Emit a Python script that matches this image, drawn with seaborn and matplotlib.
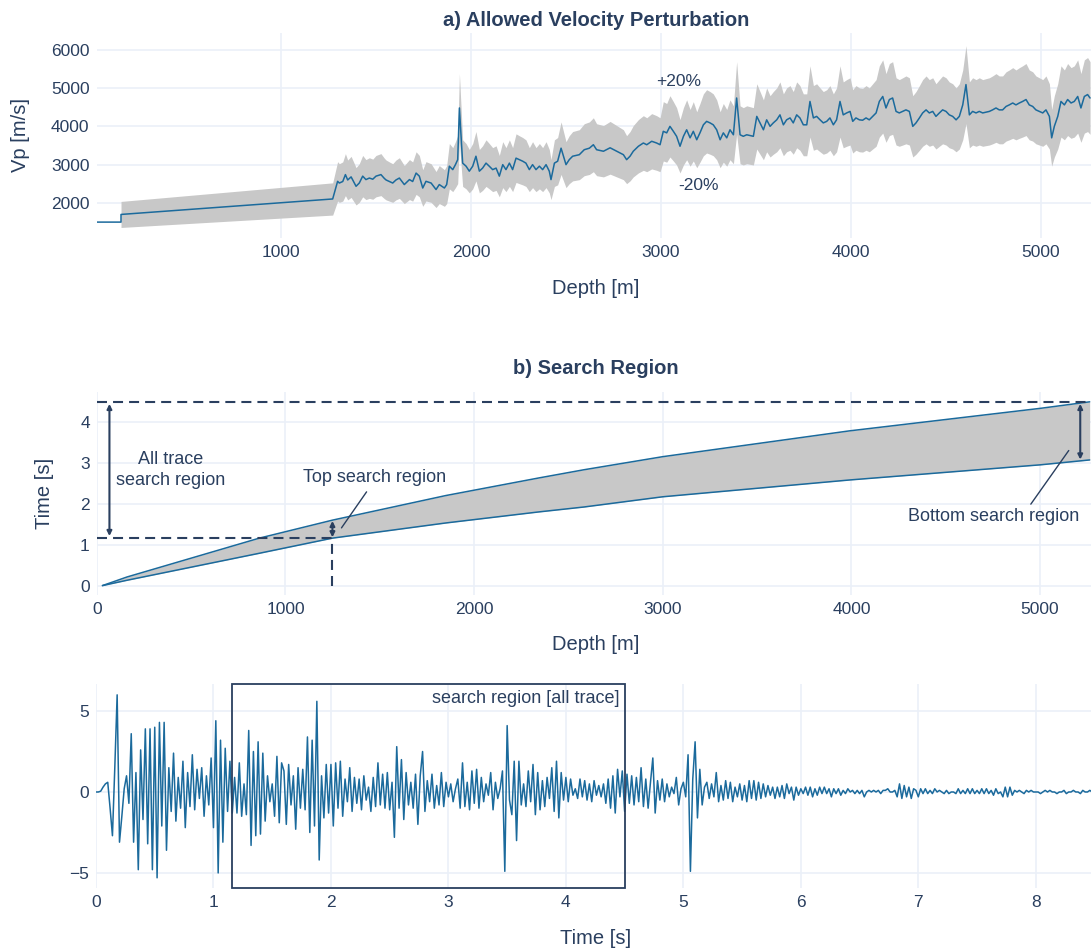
import numpy as np
import pandas as pd
import seaborn as sns
import matplotlib.pyplot as plt

# ---------------- data: a) velocity log ----------------
depth_top = [29, 158, 158, 1272]
vp_top = [1500, 1500, 1700, 2104]

depth_log = [1298, 1307, 1325, 1339, 1351, 1369, 1395, 1412, 1430, 1447, 1465, 1483, 1500, 1526,
             1544, 1553, 1570, 1588, 1605, 1623, 1649, 1676, 1693, 1711, 1728, 1746, 1763, 1790,
             1816, 1833, 1860, 1872, 1886, 1904, 1918, 1930, 1939, 1956, 1974, 1991, 2009, 2026,
             2044, 2061, 2079, 2096, 2114, 2132, 2149, 2167, 2184, 2202, 2219, 2237, 2254, 2272,
             2289, 2307, 2324, 2342, 2360, 2377, 2395, 2412, 2421, 2439, 2456, 2474, 2500, 2517,
             2535, 2570, 2596, 2623, 2644, 2661, 2697, 2732, 2767, 2802, 2819, 2837, 2854, 2881,
             2907, 2925, 2951, 2977, 2995, 3012, 3030, 3047, 3065, 3082, 3100, 3118, 3135, 3153,
             3170, 3188, 3205, 3223, 3240, 3258, 3275, 3293, 3311, 3328, 3346, 3363, 3381, 3398,
             3416, 3433, 3451, 3486, 3504, 3521, 3539, 3556, 3574, 3591, 3609, 3626, 3644, 3661,
             3679, 3696, 3714, 3731, 3749, 3767, 3784, 3802, 3819, 3837, 3854, 3872, 3889, 3907,
             3924, 3942, 3959, 3977, 3995, 4009, 4026, 4044, 4061, 4079, 4096, 4114, 4132, 4149,
             4167, 4184, 4202, 4219, 4237, 4254, 4272, 4289, 4307, 4325, 4342, 4360, 4377, 4395,
             4412, 4430, 4447, 4465, 4482, 4500, 4517, 4535, 4553, 4570, 4588, 4605, 4623, 4640,
             4658, 4675, 4693, 4710, 4728, 4745, 4763, 4780, 4798, 4816, 4833, 4851, 4868, 4886,
             4903, 4921, 4938, 4956, 4973, 4991, 5009, 5026, 5044, 5056, 5070, 5088, 5105, 5123,
             5140, 5158, 5175, 5193, 5210, 5228, 5245, 5258]
vp_log = [2565, 2520, 2560, 2740, 2600, 2680, 2435, 2520, 2700, 2610, 2650, 2620, 2700, 2740,
          2640, 2600, 2560, 2520, 2600, 2650, 2480, 2610, 2560, 2780, 2700, 2390, 2565, 2520,
          2350, 2480, 2390, 2480, 2960, 2870, 3000, 3130, 4480, 3040, 2960, 2830, 2960, 3220,
          2830, 2910, 3040, 2960, 2870, 2910, 2700, 3000, 2870, 3040, 2870, 3170, 3130, 3090,
          3040, 2870, 3000, 2870, 2960, 2870, 3000, 2830, 2610, 3040, 3090, 3430, 3000, 3130,
          3220, 3260, 3390, 3430, 3520, 3390, 3350, 3440, 3350, 3260, 3130, 3220, 3350, 3480,
          3565, 3520, 3610, 3565, 3520, 3870, 3830, 4000, 3870, 3740, 3480, 3740, 3910, 3700,
          3870, 3650, 3830, 4040, 4130, 4090, 4040, 3910, 3650, 3830, 3700, 3910, 3780, 4740,
          3780, 3740, 3780, 3740, 4260, 4090, 3910, 4170, 4000, 4090, 4170, 4300, 4040, 4170,
          4220, 4090, 4300, 4220, 4040, 4040, 4650, 4220, 4260, 4170, 4090, 4130, 4220, 4040,
          4170, 4650, 4300, 4350, 4390, 4130, 4220, 4170, 4160, 4220, 4170, 4260, 4350, 4650,
          4780, 4480, 4700, 4740, 4390, 4350, 4390, 4430, 4390, 4000, 4090, 4220, 4350, 4430,
          4350, 4390, 4260, 4350, 4430, 4390, 4300, 4260, 4170, 4260, 4560, 5090, 4300, 4390,
          4350, 4390, 4350, 4370, 4390, 4430, 4480, 4430, 4430, 4520, 4560, 4610, 4560, 4610,
          4650, 4700, 4560, 4520, 4430, 4390, 4350, 4430, 4260, 3700, 4000, 4260, 4650, 4560,
          4700, 4610, 4650, 4780, 4480, 4780, 4830, 4740]
perturb = 0.20

# ---------------- data: b) search region ----------------
depth_b = [30, 160, 862, 1250, 1850, 2343, 2582, 3000, 3989, 5000, 5263]
t_upper = [0, 0.21, 1.16, 1.60, 2.20, 2.63, 2.83, 3.15, 3.78, 4.33, 4.49]
t_lower = [0, 0.13, 0.79, 1.16, 1.53, 1.80, 1.92, 2.17, 2.58, 2.95, 3.07]
t_top, t_bottom = 1.16, 4.49
depth_top_region = 1249

# ---------------- data: c) seismic trace (dt = 0.02 s) ----------------
trace = [
    0.0, 0.0, 0.05, 0.3, 0.5, 0.6, -1.0, -2.7, 1.5, 6.0,
    -3.1, -1.5, 0.2, 1.0, -0.7, 3.6, -3.1, 1.2, -4.8, 2.6,
    -1.7, 3.9, -3.2, 3.9, -4.8, 4.0, -5.3, 4.3, -2.1, 4.3,
    -3.6, 1.5, -1.2, 2.4, -1.8, 0.9, -1.0, 1.9, -2.2, 1.2,
    -0.9, 2.3, -1.1, 1.4, -0.4, 1.5, -1.5, 1.0, -0.8, 2.1,
    -2.2, 4.4, -5.0, 3.2, -3.1, 2.7, -1.2, 1.9, -1.3, 0.9,
    -1.3, 1.8, -1.5, 0.5, -1.4, 3.8, -3.3, 2.5, -2.7, 3.1,
    -2.6, 2.4, -1.8, 1.0, -0.6, 0.5, -1.5, 2.2, -1.9, 1.8,
    1.3, -2.0, 1.7, -0.8, 1.0, -2.3, 1.5, -1.0, 1.4, -1.1,
    3.4, -2.5, 3.2, -2.1, 5.6, -4.2, 1.0, -1.6, 1.7, -1.3,
    1.7, -2.1, 1.8, -1.0, 1.9, -1.5, 0.8, -0.6, 1.5, -1.2,
    0.9, -0.7, 0.8, -1.1, 1.0, -0.5, 0.3, -1.2, 0.9, -0.9,
    1.8, -0.8, 1.1, -1.0, 1.2, -1.1, 0.6, -2.8, 2.8, -1.0,
    2.0, -1.7, 1.2, -0.8, 0.6, -1.0, 1.1, -2.0, 1.0, 2.5,
    -1.2, 0.7, -0.6, 1.1, -1.0, 0.4, -0.8, 1.2, -0.9, 0.6,
    -0.3, 0.5, -0.6, 0.2, 0.8, -1.0, 1.8, -0.9, 0.6, -1.1,
    1.3, -0.7, 1.4, -1.0, 0.9, -0.6, 0.5, -0.2, 1.2, -1.1,
    0.6, -0.4, 0.2, 1.3, -4.9, 4.1, -0.5, -1.4, 1.9, -3.0,
    1.9, -0.8, 0.5, -0.9, 1.3, -0.6, 1.7, -1.4, 1.2, -1.1,
    0.7, -0.9, 0.9, -0.4, 1.5, -1.2, 1.9, -1.6, 1.2, -0.5,
    0.9, -0.6, 0.8, -0.2, 0.2, -0.4, 0.8, -0.3, 0.7, -0.5,
    0.5, -0.6, 0.7, -0.2, 0.4, -0.3, 0.5, -0.7, 0.8, -1.0,
    1.0, -1.3, 1.4, -0.3, 1.3, -1.2, 1.1, -0.7, 1.0, -0.8,
    0.9, -0.6, 1.5, -0.9, 0.8, -1.0, 0.6, 2.1, -1.3, 0.7,
    -0.5, 0.8, -0.6, 0.5, -0.3, 0.3, -0.1, 0.9, -0.8, 0.2,
    0.6, -0.3, 2.3, -4.9, 0.8, 3.1, -1.6, 1.4, -0.8, 0.3,
    0.6, -0.4, 0.5, -0.3, 1.2, -0.6, 0.4, -0.5, 0.7, -0.4,
    0.6, -0.6, 0.3, -0.3, 0.5, -0.5, 0.4, -0.6, 0.7, -0.4,
    0.7, -0.5, 0.6, -0.4, 0.5, -0.3, 0.4, -0.2, 0.3, -0.4,
    0.3, -0.3, 0.4, -0.4, 0.5, -0.1, 0.3, -0.5, 0.3, -0.2,
    0.2, -0.1, 0.3, -0.2, 0.3, -0.3, 0.2, -0.2, 0.3, -0.1,
    0.3, -0.1, 0.2, -0.3, 0.2, -0.1, 0.2, -0.2, 0.1, -0.1,
    0.2, 0.0, 0.1, -0.1, 0.1, -0.1, 0.1, -0.3, 0.0, 0.1,
    0.0, 0.1, 0.0, 0.1, -0.1, 0.1, 0.1, 0.2, 0.0, 0.0,
    0.1, -0.3, 0.5, -0.4, 0.4, -0.3, 0.3, -0.4, 0.2, 0.1,
    -0.3, 0.2, -0.1, 0.2, -0.1, 0.1, -0.1, 0.2, 0.0, 0.1,
    0.0, -0.1, 0.1, -0.1, 0.0, 0.0, -0.1, 0.2, -0.1, 0.1,
    -0.1, 0.2, -0.1, 0.2, -0.1, 0.1, -0.1, 0.2, -0.1, 0.2,
    -0.1, 0.1, -0.2, 0.2, -0.1, 0.0, -0.3, 0.3, -0.3, 0.3,
    -0.2, 0.1, 0.0, 0.1, 0.0, -0.1, 0.1, 0.0, 0.1, 0.0,
    0.0, 0.0, -0.1, 0.0, 0.1, 0.0, 0.1, 0.0, 0.0, -0.1,
    0.0, 0.0, 0.1, -0.1, 0.0, 0.0, 0.1, 0.0, 0.0, -0.1,
    0.1, 0.0, 0.0, 0.1, 0.0,
]
dt = 0.02

# ---------------- style ----------------
sns.set_theme(style="whitegrid")
plt.rcParams['font.family'] = ['Liberation Sans', 'DejaVu Sans']
TXT = '#2a3f5f'
GRID = '#ebf0f8'
LINE = '#1b6a9c'
FILL = '#c8c8c8'

W, H = 1091, 949
fig = plt.figure(figsize=(W / 100, H / 100), dpi=100)


def axes_px(left, top, right, bottom):
    return fig.add_axes([left / W, 1 - bottom / H, (right - left) / W, (bottom - top) / H])


def style(ax):
    ax.set_facecolor('white')
    for s in ax.spines.values():
        s.set_visible(False)
    ax.grid(True, color=GRID, linewidth=1.2)
    ax.tick_params(axis='both', length=0, labelsize=12.5, colors=TXT, pad=5)
    ax.set_xlabel('')
    ax.set_ylabel('')


def ftext(x, y, s, **kw):
    fig.text(x / W, 1 - y / H, s, color=TXT, ha='center', va='center', **kw)


# ---------------- a) ----------------
ax1 = axes_px(96.5, 33, W, 238)
band_d = np.array(depth_top[2:] + depth_log)
band_v = np.array(vp_top[2:] + vp_log)
ax1.fill_between(band_d, band_v * (1 - perturb), band_v * (1 + perturb),
                 color=FILL, linewidth=0, zorder=1)
line_a = pd.DataFrame({'depth': depth_top + depth_log, 'vp': vp_top + vp_log})
sns.lineplot(data=line_a, x='depth', y='vp', ax=ax1, color=LINE, linewidth=1.1,
             estimator=None, sort=False, zorder=3)
ax1.set_xlim(29, 5263)
ax1.set_ylim(1085, 6437)
ax1.set_xticks([1000, 2000, 3000, 4000, 5000])
ax1.set_yticks([2000, 3000, 4000, 5000, 6000])
style(ax1)
ax1.text(3095, 5163, '+20%', color=TXT, fontsize=12.5, ha='center', va='center')
ax1.text(3198, 2444, '-20%', color=TXT, fontsize=12.5, ha='center', va='center')
ftext(596, 20, 'a) Allowed Velocity Perturbation', fontsize=14.5, fontweight='bold')
ftext(596, 288, 'Depth [m]', fontsize=14.5)
ftext(20, 135, 'Vp [m/s]', fontsize=14.5, rotation=90)

# ---------------- b) ----------------
ax2 = axes_px(96.8, 392, W, 595)
ax2.fill_between(depth_b, t_lower, t_upper, color=FILL, linewidth=0, zorder=1)
region = pd.DataFrame({'depth': depth_b * 2,
                       'time': t_upper + t_lower,
                       'curve': ['upper'] * len(depth_b) + ['lower'] * len(depth_b)})
sns.lineplot(data=region, x='depth', y='time', units='curve', estimator=None, ax=ax2,
             color=LINE, linewidth=1.1, zorder=3)
ax2.set_xlim(0, 5270)
ax2.set_ylim(-0.23, 4.73)
ax2.set_xticks([0, 1000, 2000, 3000, 4000, 5000])
ax2.set_yticks([0, 1, 2, 3, 4])
style(ax2)
dash = dict(color=TXT, linewidth=1.5, dashes=(4.8, 2.9), zorder=4)
ax2.plot([0, 5270], [t_bottom, t_bottom], **dash)
ax2.plot([0, depth_top_region], [t_top, t_top], **dash)
ax2.plot([depth_top_region, depth_top_region], [0, t_top], **dash)
arr = dict(arrowstyle='<|-|>', color=TXT, lw=1.5, mutation_scale=7, shrinkA=0, shrinkB=0)
ax2.annotate('', xy=(67, t_bottom - 0.05), xytext=(67, t_top + 0.05), arrowprops=arr, zorder=5)
ax2.annotate('', xy=(depth_top_region, 1.58), xytext=(depth_top_region, t_top + 0.02),
             arrowprops=arr, zorder=5)
ax2.annotate('', xy=(5213, 4.44), xytext=(5213, 3.08), arrowprops=arr, zorder=5)
ax2.text(393, 2.82, 'All trace\nsearch region', color=TXT, fontsize=13,
         ha='center', va='center', linespacing=1.3)
ax2.text(1470, 2.63, 'Top search region', color=TXT, fontsize=13, ha='center', va='center')
ax2.plot([1430, 1297], [2.29, 1.41], color=TXT, linewidth=1, zorder=5)
ax2.text(4755, 1.69, 'Bottom search region', color=TXT, fontsize=13, ha='center', va='center')
ax2.plot([4951, 5152], [1.99, 3.30], color=TXT, linewidth=1, zorder=5)
ftext(596, 369, 'b) Search Region', fontsize=14.5, fontweight='bold')
ftext(596, 645, 'Depth [m]', fontsize=14.5)
ftext(45, 493, 'Time [s]', fontsize=14.5, rotation=90)

# ---------------- c) ----------------
ax3 = axes_px(96, 684, W, 888)
seis = pd.DataFrame({'time': np.arange(len(trace)) * dt, 'amp': trace})
sns.lineplot(data=seis, x='time', y='amp', ax=ax3, color=LINE, linewidth=1.1,
             estimator=None, zorder=3)
ax3.set_xlim(0, 8.47)
ax3.set_ylim(-5.93, 6.67)
ax3.set_xticks(range(0, 9))
ax3.set_yticks([-5, 0, 5])
ax3.set_yticklabels(['\u22125', '0', '5'])
style(ax3)
ax3.add_patch(plt.Rectangle((t_top, -5.93), 4.50 - t_top, 12.6, fill=False,
                            edgecolor=TXT, linewidth=1.3, zorder=4, clip_on=False))
ax3.text(4.46, 5.8, 'search region [all trace]', color=TXT, fontsize=13,
         ha='right', va='center')
ftext(596, 938, 'Time [s]', fontsize=14.5)

fig.savefig('out.png', dpi=100, facecolor='white')
